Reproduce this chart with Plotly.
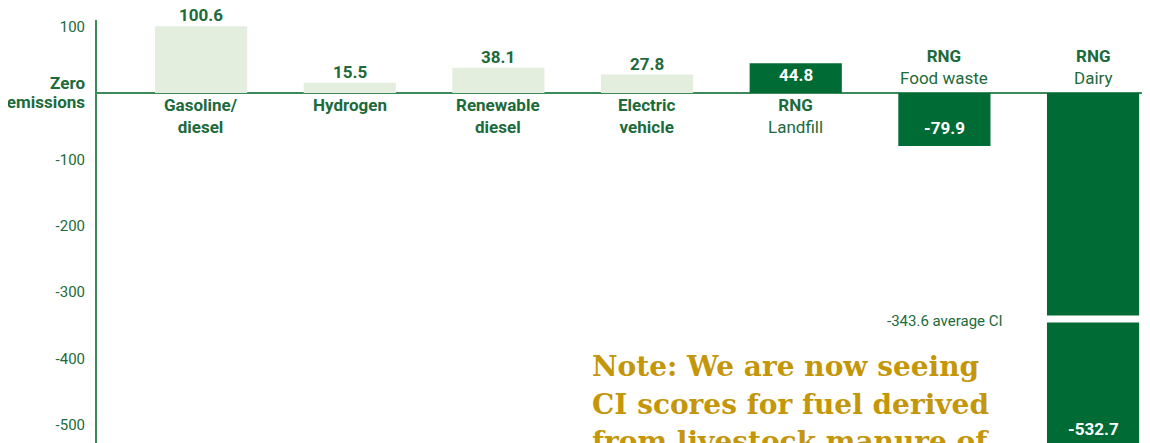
import plotly.graph_objects as go

categories = ["Gasoline/diesel", "Hydrogen", "Renewable diesel", "Electric vehicle",
              "RNG Landfill", "RNG Food waste", "RNG Dairy"]
label_lines = [("<b>Gasoline/</b>", "<b>diesel</b>"), ("<b>Hydrogen</b>", None),
               ("<b>Renewable</b>", "<b>diesel</b>"), ("<b>Electric</b>", "<b>vehicle</b>"),
               ("<b>RNG</b>", "Landfill"), ("<b>RNG</b>", "Food waste"), ("<b>RNG</b>", "Dairy")]
ci_values = [100.6, 15.5, 38.1, 27.8, 44.8, -79.9, -532.7]
is_rng = [False, False, False, False, True, True, True]
avg_ci = -343.6
y_range = [-527.4, 110]
tick_vals = [100, 0, -100, -200, -300, -400, -500]
tick_text = ["100", "<span style='font-size:17px'><b>Zero<br>emissions</b></span>",
             "-100", "-200", "-300", "-400", "-500"]
note_lines = ["Note: We are now seeing", "CI scores for fuel derived", "from livestock manure of"]

LIGHT = "#e3eedf"
DARK = "#006b35"
TXT = "#1d6a3b"
AXIS = "#3b8a5c"
GOLD = "#c4960a"
FONT = "Roboto, Arial, sans-serif"

fig = go.Figure()
fig.add_trace(go.Bar(
    x=categories, y=ci_values,
    marker=dict(color=[DARK if r else LIGHT for r in is_rng], line=dict(width=0)),
    hoverinfo="skip",
))

ann = []
for cat, val, rng, (l1, l2) in zip(categories, ci_values, is_rng, label_lines):
    # value labels
    if not rng:
        ann.append(dict(x=cat, y=val, text=f"<b>{val}</b>", showarrow=False,
                        yanchor="bottom", yshift=-1, font=dict(size=17, color=TXT, family=FONT)))
    elif val > 0:
        ann.append(dict(x=cat, y=val, text=f"<b>{val}</b>", showarrow=False,
                        yanchor="top", yshift=0, font=dict(size=17, color="white", family=FONT)))
    else:
        clamped = val < y_range[0]
        ann.append(dict(x=cat, y=max(val, y_range[0]), text=f"<b>{val}</b>", showarrow=False,
                        yanchor="bottom", yshift=2 if clamped else 6,
                        font=dict(size=17, color="white", family=FONT)))
    # category labels
    txt = l1 if l2 is None else l1 + "<br>" + l2
    if val >= 0:
        ann.append(dict(x=cat, y=0, text=txt, showarrow=False, yanchor="top", yshift=0,
                        font=dict(size=17, color=TXT, family=FONT)))
    else:
        ann.append(dict(x=cat, y=0, text=txt, showarrow=False, yanchor="bottom", yshift=3,
                        font=dict(size=17, color=TXT, family=FONT)))

ann.append(dict(x=categories[-1], y=avg_ci, text=f"{avg_ci} average CI", showarrow=False,
                xanchor="right", yanchor="middle", xshift=-88, yshift=0,
                font=dict(size=15, color=TXT, family=FONT)))

for i, line in enumerate(note_lines):
    ann.append(dict(xref="paper", yref="paper", x=0.468, y=[0.1797, 0.0910, 0.0024][i],
                    text=f"<b>{line}</b>", showarrow=False, xanchor="left", yanchor="middle",
                    font=dict(size=28, color=GOLD, family="DejaVu Serif, serif")))

fig.add_shape(type="line", xref="x", yref="y",
              x0=6 - 0.33, x1=6 + 0.33, y0=avg_ci + 3, y1=avg_ci + 3,
              line=dict(color="white", width=7))

fig.update_layout(
    width=1142, height=435,
    margin=dict(l=89, r=0, t=12, b=0, autoexpand=False),
    paper_bgcolor="white", plot_bgcolor="white",
    showlegend=False, bargap=0.38,
    annotations=ann,
    xaxis=dict(range=[-0.7, 6.383], showticklabels=False, showgrid=False,
               zeroline=False, showline=False, ticks="", automargin=False),
    yaxis=dict(range=y_range, tickvals=tick_vals, ticktext=tick_text,
               showgrid=False, zeroline=True, zerolinecolor=AXIS, zerolinewidth=2,
               showline=True, linecolor=AXIS, linewidth=2, ticks="",
               ticklabelstandoff=7, automargin=False,
               tickfont=dict(size=15, color=TXT, family=FONT)),
)

fig.write_html("out.html")
